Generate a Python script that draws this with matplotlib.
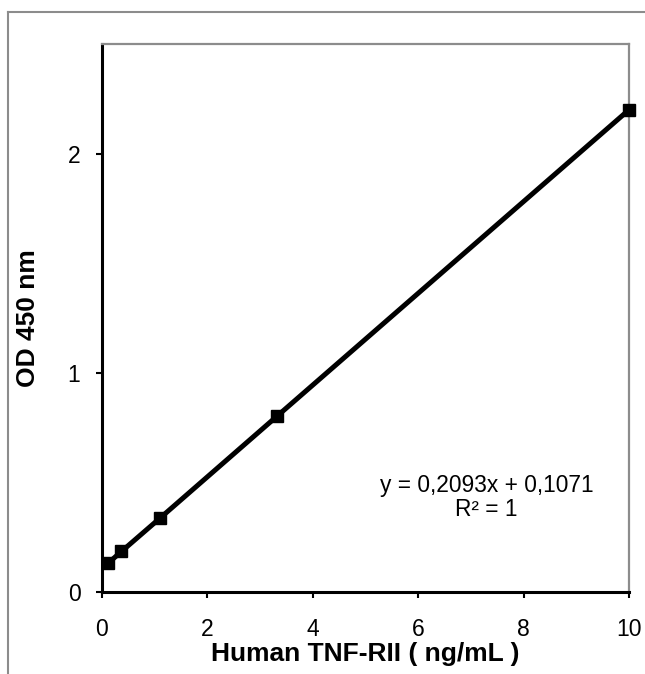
import matplotlib
matplotlib.use("Agg")
import matplotlib.pyplot as plt
from matplotlib.lines import Line2D

plt.rcParams['font.family'] = ['Liberation Sans', 'DejaVu Sans']

# standard curve data
conc = [0.123, 0.37, 1.11, 3.33, 10.0]
od = [0.133, 0.185, 0.339, 0.804, 2.200]
x_ticks = [0, 2, 4, 6, 8, 10]
y_ticks = [0, 1, 2]
equation = "y = 0,2093x + 0,1071"
r2_text = "R² = 1"

fig = plt.figure(figsize=(6.45, 6.74), dpi=100)
ax = fig.add_axes([102/645, 1 - 592/674, (629 - 102)/645, (592 - 44)/674])

ax.plot(conc, od, color='black', lw=3.6, marker='s', ms=9,
        solid_capstyle='round', zorder=3, clip_on=False)

ax.set_xlim(0, 10)
ax.set_ylim(0, 2.5)
ax.set_xticks(x_ticks)
ax.set_yticks(y_ticks)
ax.tick_params(direction='out', length=4.5, width=1.5, labelsize=16.5, pad=14)
ax.tick_params(axis='y', pad=11)

for side in ['left', 'bottom']:
    ax.spines[side].set_color('black')
    ax.spines[side].set_linewidth(2.2)
for side in ['top', 'right']:
    ax.spines[side].set_color('#8c8c8c')
    ax.spines[side].set_linewidth(1.6)

ax.set_xlabel('Human TNF-RII ( ng/mL )', fontsize=19, fontweight='bold', labelpad=1)
ax.set_ylabel('OD 450 nm', fontsize=19, fontweight='bold', labelpad=20)

ax.text(7.3, 0.43, equation + "\n" + r2_text, ha='center', va='center',
        fontsize=16.4, linespacing=1.05)

# outer chart border (cropped on the right and bottom)
fig.add_artist(Line2D([8/645, 1], [1 - 12/674, 1 - 12/674], color='#8c8c8c', lw=1.5))
fig.add_artist(Line2D([8/645, 8/645], [0, 1 - 12/674], color='#8c8c8c', lw=1.5))

fig.savefig('out.png', dpi=100)
